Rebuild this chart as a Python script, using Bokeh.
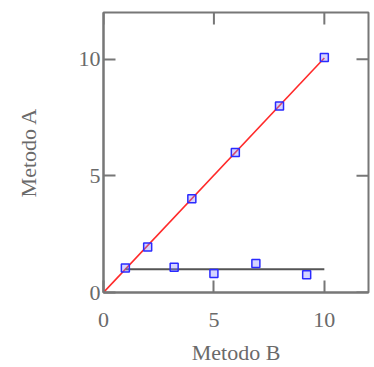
import math
from bokeh.plotting import figure
from bokeh.models import FixedTicker, Range1d
from bokeh.embed import file_html
from bokeh.resources import INLINE

# data
xa = [0.99, 2.0, 4.0, 5.97, 7.97, 10.0]
ya = [1.05, 1.95, 4.02, 6.0, 7.99, 10.07]
xb = [3.2, 5.0, 6.9, 9.2]
yb = [1.08, 0.81, 1.24, 0.76]
fit_x = [0, 10]
fit_y = [0, 10.05]
flat_x = [1.0, 10.0]
flat_y = [1.0, 1.0]
ticks = [0, 5, 10]
axis_max = 12

GRAY = "#777777"
TXT = "#6a6a6a"
FONT = "Liberation Serif"

p = figure(width=372, height=367, output_backend="svg", toolbar_location=None,
           x_range=Range1d(0, axis_max), y_range=Range1d(0, axis_max),
           min_border_left=103, min_border_right=4, min_border_top=12, min_border_bottom=73,
           x_axis_label="Metodo B", y_axis_label="Metodo A")
p.grid.visible = False
p.outline_line_color = GRAY
p.outline_line_width = 2
p.background_fill_color = "white"
p.border_fill_color = "white"

def style(ax):
    ax.ticker = FixedTicker(ticks=ticks)
    ax.axis_line_color = GRAY
    ax.axis_line_width = 2
    ax.major_tick_line_color = GRAY
    ax.major_tick_line_width = 2
    ax.major_tick_in = 12
    ax.major_tick_out = 0
    ax.minor_tick_line_color = None
    ax.major_label_text_font = FONT
    ax.major_label_text_color = TXT
    ax.major_label_text_font_size = "22px"
    ax.axis_label_text_font = FONT
    ax.axis_label_text_color = TXT
    ax.axis_label_text_font_style = "normal"
    ax.axis_label_text_font_size = "22px"

for ax in p.xaxis:
    style(ax)
    ax.major_label_standoff = 20
    ax.axis_label_standoff = 10
for ax in p.yaxis:
    style(ax)
    ax.major_label_standoff = 3
    ax.axis_label_standoff = 35

# mirrored inward ticks on top and right edges
p.ray(x=ticks, y=[axis_max] * len(ticks), length=12, length_units="screen",
      angle=-math.pi / 2, line_color=GRAY, line_width=2)
p.ray(x=[axis_max] * len(ticks), y=ticks, length=12, length_units="screen",
      angle=math.pi, line_color=GRAY, line_width=2)

p.line(fit_x, fit_y, line_color="#ff2a2a", line_width=1.6)
p.line(flat_x, flat_y, line_color="#555555", line_width=2)
p.scatter(xa, ya, marker="square", size=8, line_color="#2a2aff", line_width=1.5,
          fill_color="#8888ff", fill_alpha=0.35)
p.scatter(xb, yb, marker="square", size=8, line_color="#2a2aff", line_width=1.5,
          fill_color="#8888ff", fill_alpha=0.35)

open("out.html", "w").write(file_html(p, INLINE))
